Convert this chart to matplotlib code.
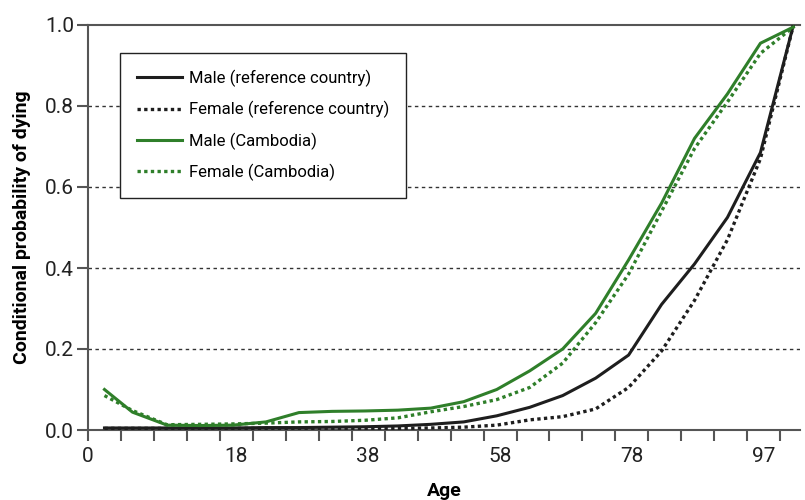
import matplotlib
matplotlib.use('Agg')
import matplotlib.pyplot as plt

plt.rcParams['font.family'] = ['Liberation Sans Narrow', 'Roboto', 'DejaVu Sans']

# positions of the age groups on the category axis
age_pos = [0.5, 1.35, 2.4, 3.4, 4.4, 5.4, 6.4, 7.4, 8.4, 9.4, 10.4,
           11.4, 12.4, 13.4, 14.4, 15.4, 16.4, 17.4, 18.4, 19.4, 20.4, 21.4]

male_ref = [0.005, 0.005, 0.005, 0.005, 0.005, 0.006, 0.006, 0.007, 0.008, 0.010, 0.014,
            0.020, 0.035, 0.056, 0.085, 0.128, 0.185, 0.310, 0.410, 0.525, 0.685, 1.0]
female_ref = [0.004, 0.004, 0.004, 0.004, 0.004, 0.004, 0.004, 0.004, 0.004, 0.004, 0.005,
              0.007, 0.012, 0.025, 0.033, 0.052, 0.105, 0.195, 0.320, 0.470, 0.670, 1.0]
male_kh = [0.100, 0.044, 0.012, 0.011, 0.012, 0.020, 0.043, 0.046, 0.047, 0.049, 0.054,
           0.070, 0.100, 0.146, 0.200, 0.288, 0.420, 0.560, 0.720, 0.830, 0.955, 0.995]
female_kh = [0.085, 0.048, 0.013, 0.014, 0.015, 0.017, 0.020, 0.021, 0.024, 0.030, 0.045,
             0.058, 0.075, 0.105, 0.165, 0.265, 0.385, 0.540, 0.695, 0.810, 0.930, 0.995]

tick_pos = [0, 4.5, 8.5, 12.5, 16.5, 20.5]
tick_lab = ['0', '18', '38', '58', '78', '97']

green = '#2f7f2a'
dark = '#1e1e1e'

fig = plt.figure(figsize=(8.05, 5.0), dpi=100)
ax = fig.add_axes([88/805, 70/500, 712/805, 405/500])

for v in [0.2, 0.4, 0.6, 0.8]:
    ax.axhline(v, color='#333333', lw=1.0, ls=(0, (2.5, 2.5)), zorder=1)

ax.plot(age_pos, male_ref, color=dark, lw=2.2, label='Male (reference country)', zorder=3)
ax.plot(age_pos, female_ref, color=dark, lw=2.4, ls=(0, (1, 1)), label='Female (reference country)', zorder=3)
ax.plot(age_pos, male_kh, color=green, lw=2.2, label='Male (Cambodia)', zorder=3)
ax.plot(age_pos, female_kh, color=green, lw=2.4, ls=(0, (1, 1)), label='Female (Cambodia)', zorder=3)

ax.set_xlim(0, 21.6)
ax.set_ylim(0, 1.0)
ax.set_yticks([0, 0.2, 0.4, 0.6, 0.8, 1.0])
ax.set_yticklabels(['0.0', '0.2', '0.4', '0.6', '0.8', '1.0'])
ax.xaxis.remove_overlapping_locs = False
ax.set_xticks(list(range(22)), labels=[''] * 22)
ax.set_xticks(tick_pos, labels=tick_lab, minor=True)
ax.tick_params(axis='x', which='minor', length=0, pad=12, labelsize=15, labelcolor='#222222')
ax.tick_params(axis='x', which='major', direction='out', length=8, width=1.5, color='#555555')
ax.tick_params(axis='y', length=8, width=1.5, color='#555555', labelsize=15, labelcolor='#222222', pad=2)

for s in ['left', 'bottom', 'top']:
    ax.spines[s].set_color('#555555')
    ax.spines[s].set_linewidth(1.5)
ax.spines['right'].set_visible(False)

ax.set_xlabel('Age', fontsize=14, fontweight='bold', labelpad=12)
ax.set_ylabel('Conditional probability of dying', fontsize=14, fontweight='bold', labelpad=10)

leg = ax.legend(loc='upper left', bbox_to_anchor=(0.045, 0.931), fontsize=12,
                frameon=True, fancybox=False, edgecolor='#222222', framealpha=1,
                handlelength=2.7, handletextpad=0.45, labelspacing=0.85, borderpad=1.0,
                borderaxespad=0)
leg.get_frame().set_linewidth(1.0)

fig.savefig('out.png', dpi=100)
